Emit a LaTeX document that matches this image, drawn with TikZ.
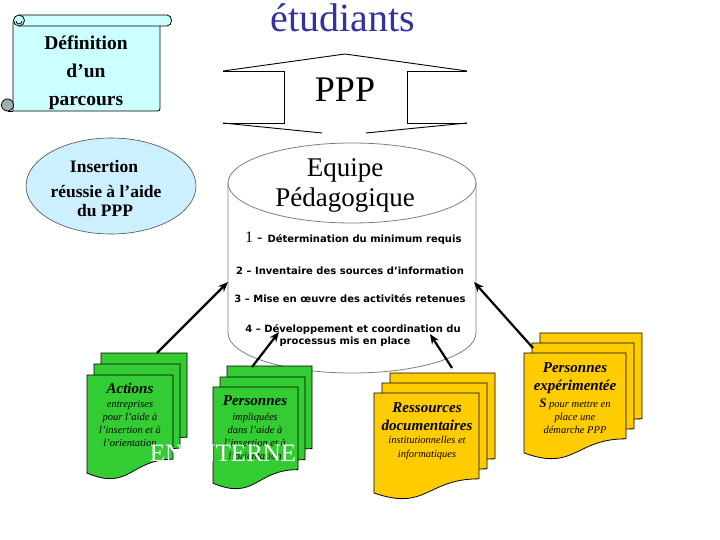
\documentclass[tikz,border=0pt]{standalone}
\usepackage{fontspec}
\setmainfont{Liberation Serif}
\newfontfamily\verd{DejaVu Sans}
\usetikzlibrary{arrows.meta}
\definecolor{titleblue}{RGB}{51,51,160}
\definecolor{scrollc}{RGB}{204,255,255}
\definecolor{ellc}{RGB}{204,240,255}
\definecolor{curlgray}{RGB}{160,176,176}
\definecolor{docgreen}{RGB}{51,204,51}
\definecolor{docyellow}{RGB}{255,204,0}
\definecolor{cylgray}{RGB}{128,128,128}
\newcommand{\docpage}[5]{%
  \pgfmathsetmacro\dxa{#1+#3}\pgfmathsetmacro\dxm{#1+0.5*#3}%
  \pgfmathsetmacro\dyr{#2+0.802*#4}\pgfmathsetmacro\dyc{#2+1.1075*#4}\pgfmathsetmacro\dyl{#2+0.934*#4}%
  \draw[docline, fill=#5] (#1,#2) -- (\dxa,#2) -- (\dxa,\dyr) .. controls (\dxm,\dyr) and (\dxm,\dyc) .. (#1,\dyl) -- cycle;}
\begin{document}
\begin{tikzpicture}[x=1pt,y=-1pt,
  lbl/.style={inner sep=0pt, anchor=base},
  deftxt/.style={lbl, font=\bfseries\fontsize{19.5}{24}\selectfont},
  elltxt/.style={lbl, font=\bfseries\fontsize{17.5}{21}\selectfont},
  cyltitle/.style={lbl, font=\fontsize{27}{32}\selectfont},
  steptxt/.style={lbl, font=\verd\bfseries\fontsize{10}{12}\selectfont},
  doctitle/.style={lbl, font=\bfseries\itshape\fontsize{15}{18}\selectfont},
  docsmall/.style={lbl, font=\itshape\fontsize{10.5}{12}\selectfont},
  docline/.style={draw=black, line width=0.8pt},
  scrollline/.style={draw=black, line width=0.8pt},
  pppline/.style={line width=0.9pt},
  arr/.style={line width=2.2pt, -{Stealth[length=10pt,width=8pt]}}]
\useasboundingbox (0,0) rectangle (720,540);
\fill[white] (0,0) rectangle (720,540);

% scroll
\draw[scrollline, fill=scrollc] (13,22) -- (13,111) -- (155,111) .. controls (160,111) .. (160,106) -- (160,22) -- cycle;
\draw[scrollline, fill=scrollc] (19,15) -- (167,15) .. controls (173,15) and (173,26) .. (167,26) -- (19,26);
\draw[scrollline, fill=scrollc] (19,20.5) circle (5.5pt);
\draw[scrollline] (16,21) arc[start angle=180, end angle=360, radius=3pt];
\draw[scrollline, fill=curlgray] (7.5,105) circle (6pt);
\draw[scrollline] (7.5,111) -- (13,111);
\node[deftxt] (def1) at (86,50) {Définition};
\node[deftxt] (def2) at (86,78) {d’un};
\node[deftxt] (def3) at (86,106) {parcours};

% title
\node[lbl, text=titleblue, font=\fontsize{40}{48}\selectfont] (etud) at (343,32) {étudiants};

% PPP shape
\draw[pppline] (223,71) -- (284,71) -- (284,123) -- (223,123);
\draw[pppline] (467,71) -- (407,71) -- (407,123) -- (467,123);
\draw[pppline] (223,71) -- (345,54) -- (467,71);
\draw[pppline] (223,123) -- (322,133);
\draw[pppline] (467,123) -- (366,133);
\node[lbl, font=\fontsize{36}{40}\selectfont] (ppp) at (345,102) {PPP};

% ellipse
\draw[fill=ellc, draw=black!70, line width=0.6pt] (111,186) ellipse [x radius=85pt, y radius=48pt];
\node[elltxt] (ins1) at (104,173) {Insertion};
\node[elltxt] (ins2) at (106,198) {réussie à l’aide};
\node[elltxt] (ins3) at (105,217) {du PPP};

% cylinder
\draw[cylgray, fill=white, line width=0.8pt] (228,183) -- (228,333) arc[start angle=180, end angle=360, x radius=124pt, y radius=40pt] -- (476,183);
\draw[cylgray, line width=0.8pt] (352,183) ellipse [x radius=124pt, y radius=40pt];
\node[cyltitle] (eq1) at (345,177) {Equipe};
\node[cyltitle] (eq2) at (345,207) {Pédagogique};
\node[lbl, anchor=base west] (s1) at (245,242) {{\fontsize{16}{16}\selectfont 1 -}\hspace{5pt}{\verd\bfseries\fontsize{10}{12}\selectfont Détermination du minimum requis}};
\node[steptxt] (s2) at (350,274) {2 – Inventaire des sources d’information};
\node[steptxt] (s3) at (350,302) {3 – Mise en œuvre des activités retenues};
\node[steptxt] (s4) at (353,332) {4 – Développement et coordination du};
\node[steptxt] (s5) at (345,344) {processus mis en place};

% document stacks
\docpage{101}{353}{86}{105}{docgreen}
\docpage{94}{364}{86}{105}{docgreen}
\docpage{87}{375}{86}{105}{docgreen}
\node[doctitle] (act1) at (130,393) {Actions};
\node[docsmall] (act2) at (130,407) {entreprises};
\node[docsmall] (act3) at (130,420) {pour l’aide à};
\node[docsmall] (act4) at (130,433) {l’insertion et à};
\node[docsmall] (act5) at (130,446) {l’orientation};

\docpage{227}{366}{85}{103}{docgreen}
\docpage{220}{377}{85}{103}{docgreen}
\docpage{213}{387}{85}{103}{docgreen}
\node[doctitle] (pi1) at (255,405) {Personnes};
\node[docsmall] (pi2) at (255,420) {impliquées};
\node[docsmall] (pi3) at (255,433) {dans l’aide à};
\node[docsmall] (pi4) at (255,446) {l’insertion et à};
\node[docsmall] (pi5) at (255,459) {l’orientation};

\docpage{390}{373}{105}{107}{docyellow}
\docpage{382}{383}{105}{107}{docyellow}
\docpage{374}{393}{105}{107}{docyellow}
\node[doctitle] (rd1) at (427,412) {Ressources};
\node[doctitle] (rd2) at (427,430) {documentaires};
\node[docsmall] (rd3) at (427,443) {institutionnelles et};
\node[docsmall] (rd4) at (427,457) {informatiques};

\docpage{540}{333}{102}{107}{docyellow}
\docpage{532}{343}{102}{107}{docyellow}
\docpage{524}{353}{102}{107}{docyellow}
\node[doctitle] (pe1) at (575,372) {Personnes};
\node[doctitle] (pe2) at (575,390) {expérimentée};
\node[docsmall] (pe3) at (575,407) {{\bfseries\fontsize{13}{13}\selectfont S} pour mettre en};
\node[docsmall] (pe4) at (575,420) {place une};
\node[docsmall] (pe5) at (575,433) {démarche PPP};

\node[lbl, text=white, font=\fontsize{25}{30}\selectfont] (interne) at (223,461) {EN INTERNE};

% arrows
\coordinate (a1s) at (157,353); \coordinate (a1e) at (228,282);
\coordinate (a2s) at (252,367); \coordinate (a2e) at (279,332);
\coordinate (a3s) at (452,368); \coordinate (a3e) at (430,334);
\coordinate (a4s) at (533,348); \coordinate (a4e) at (474,282);
\draw[arr] (a1s) -- (a1e);
\draw[arr] (a2s) -- (a2e);
\draw[arr] (a3s) -- (a3e);
\draw[arr] (a4s) -- (a4e);
\end{tikzpicture}
\end{document}
